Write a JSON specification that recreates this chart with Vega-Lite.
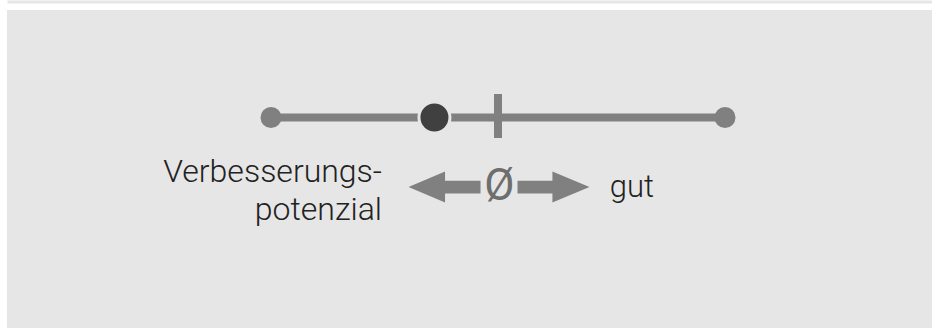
{
  "$schema": "https://vega.github.io/schema/vega-lite/v6.json",
  "autosize": "none",
  "width": 925,
  "height": 318,
  "padding": {"left": 7, "top": 10, "right": 0, "bottom": 0},
  "background": "#ffffff",
  "config": {"view": {"fill": "#e6e6e6", "stroke": null}},
  "datasets": {
    "track": [{"x": 0, "x2": 100, "y": 0}],
    "tick": [{"x": 50, "y": 0.5875, "y2": -0.5125}],
    "ends": [{"x": 0, "y": 0, "role": "min"}, {"x": 100, "y": 0, "role": "max"}],
    "value": [{"x": 36, "y": 0}],
    "arrows": [{"x": 38.22, "y": -1.74, "dir": "left"}, {"x": 62.22, "y": -1.74, "dir": "right"}],
    "leftLabel": [{"x": 24.45, "y": -1.62, "label": "Verbesserungs-"}, {"x": 24.45, "y": -2.57, "label": "potenzial"}],
    "avgLabel": [{"x": 50.3, "y": -2.07, "label": "Ø"}],
    "rightLabel": [{"x": 74.6, "y": -1.98, "label": "gut"}]
  },
  "encoding": {
    "x": {
      "field": "x", "type": "quantitative",
      "scale": {"domain": [-58.15, 145.59], "nice": false, "zero": false},
      "axis": {"orient": "top", "offset": 8.5, "domainColor": "#e6e6e6", "domainWidth": 3, "ticks": false, "labels": false, "grid": false, "title": null}
    },
    "y": {
      "field": "y", "type": "quantitative",
      "scale": {"domain": [-5.2625, 2.6875], "nice": false, "zero": false},
      "axis": null
    }
  },
  "layer": [
    {
      "data": {"name": "track"},
      "mark": {"type": "rule", "color": "#808080", "strokeWidth": 8, "strokeCap": "butt"},
      "encoding": {"x2": {"field": "x2"}}
    },
    {
      "data": {"name": "tick"},
      "mark": {"type": "rule", "color": "#808080", "strokeWidth": 8, "strokeCap": "butt"},
      "encoding": {"y2": {"field": "y2"}}
    },
    {
      "data": {"name": "ends"},
      "mark": {"type": "point", "shape": "circle", "filled": true, "size": 440, "color": "#808080", "opacity": 1}
    },
    {
      "data": {"name": "value"},
      "mark": {"type": "point", "shape": "circle", "filled": true, "size": 962, "fill": "#404040", "stroke": "#e6e6e6", "strokeWidth": 3, "opacity": 1}
    },
    {
      "data": {"name": "arrows"},
      "mark": {"type": "point", "filled": true, "size": 5184, "color": "#808080", "opacity": 1},
      "encoding": {
        "shape": {
          "field": "dir", "type": "nominal", "legend": null,
          "scale": {
            "domain": ["left", "right"],
            "range": [
              "M-1,0L0.014,-0.43L0.014,-0.175L1,-0.175L1,0.175L0.014,0.175L0.014,0.43Z",
              "M1,0L-0.03,-0.43L-0.03,-0.175L-1,-0.175L-1,0.175L-0.03,0.175L-0.03,0.43Z"
            ]
          }
        }
      }
    },
    {
      "data": {"name": "leftLabel"},
      "mark": {"type": "text", "align": "right", "baseline": "alphabetic", "font": "Roboto", "fontWeight": 300, "fontSize": 32, "color": "#222222"},
      "encoding": {"text": {"field": "label"}}
    },
    {
      "data": {"name": "avgLabel"},
      "mark": {"type": "text", "align": "center", "baseline": "alphabetic", "font": "Roboto", "fontWeight": 400, "fontSize": 44, "color": "#6e6e6e"},
      "encoding": {"text": {"field": "label"}}
    },
    {
      "data": {"name": "rightLabel"},
      "mark": {"type": "text", "align": "left", "baseline": "alphabetic", "font": "Roboto", "fontWeight": 300, "fontSize": 31, "color": "#222222"},
      "encoding": {"text": {"field": "label"}}
    }
  ]
}
